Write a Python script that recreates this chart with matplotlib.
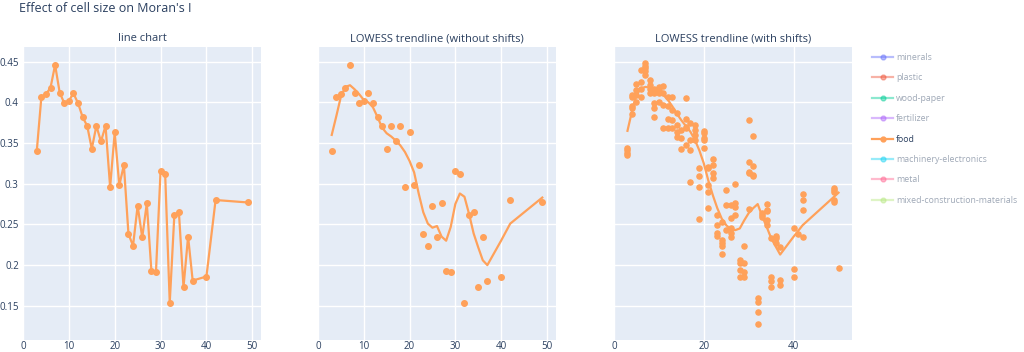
import matplotlib
matplotlib.use("Agg")
import matplotlib.pyplot as plt
from matplotlib.lines import Line2D

plt.rcParams['font.family'] = ['Open Sans', 'DejaVu Sans']

TEXT = '#2a3f5f'
BG = '#E5ECF6'
FOOD = '#FFA15A'

# cell size vs Moran's I (food)
cell_size = [3, 4, 5, 6, 7, 8, 9, 10, 11, 12, 13, 14, 15, 16, 17, 18, 19, 20, 21, 22,
             23, 24, 25, 26, 27, 28, 29, 30, 31, 32, 33, 34, 35, 36, 37, 40, 42, 49]
morans_i = [0.340, 0.406, 0.410, 0.418, 0.446, 0.412, 0.399, 0.402, 0.411, 0.399,
            0.382, 0.371, 0.343, 0.371, 0.352, 0.371, 0.296, 0.363, 0.298, 0.323,
            0.238, 0.224, 0.273, 0.234, 0.276, 0.193, 0.192, 0.316, 0.312, 0.154,
            0.261, 0.265, 0.173, 0.235, 0.181, 0.186, 0.280, 0.277]
lowess_noshift = [0.360, 0.383, 0.407, 0.419, 0.421, 0.416, 0.410, 0.403, 0.400, 0.394,
                  0.382, 0.369, 0.362, 0.358, 0.353, 0.347, 0.339, 0.328, 0.314, 0.288,
                  0.265, 0.251, 0.246, 0.248, 0.235, 0.230, 0.247, 0.275, 0.288, 0.284,
                  0.263, 0.239, 0.222, 0.206, 0.200, 0.230, 0.251, 0.283]

# with shifts: several grid offsets per cell size
shift_x = ([3] * 4 + [4] * 5 + [5] * 4 + [6] * 4 + [7] * 5 + [8] * 4 + [9] * 5 + [10] * 4
           + [11] * 4 + [12] * 4 + [13] * 4 + [14] * 4 + [15] * 3 + [16] * 5 + [17] * 4
           + [18] * 4 + [19] * 4 + [20] * 5 + [21] * 5 + [22] * 4 + [23] * 4 + [24] * 5
           + [25] * 3 + [26] * 5 + [27] * 4 + [28] * 4 + [29] * 4 + [30] * 5 + [31] * 4
           + [32] * 4 + [33] * 3 + [34] * 5 + [35] * 4 + [36] * 3 + [37] * 3 + [40] * 3
           + [41] + [42] * 4 + [49] * 5 + [50])
shift_y = [0.344, 0.341, 0.338, 0.335,
           0.386, 0.393, 0.395, 0.407, 0.409,
           0.422, 0.415, 0.409, 0.401,
           0.440, 0.425, 0.417, 0.406,
           0.448, 0.445, 0.442, 0.438, 0.434,
           0.427, 0.421, 0.416, 0.412,
           0.417, 0.412, 0.399, 0.393, 0.382,
           0.419, 0.415, 0.411, 0.401,
           0.420, 0.411, 0.397, 0.369,
           0.407, 0.395, 0.380, 0.368,
           0.406, 0.391, 0.378, 0.368,
           0.387, 0.372, 0.364, 0.358,
           0.366, 0.356, 0.343,
           0.405, 0.380, 0.370, 0.368, 0.348,
           0.375, 0.354, 0.341, 0.302,
           0.372, 0.366, 0.360, 0.354,
           0.319, 0.309, 0.296, 0.257,
           0.365, 0.362, 0.356, 0.354, 0.344,
           0.321, 0.319, 0.298, 0.290, 0.270,
           0.330, 0.323, 0.313, 0.307,
           0.262, 0.249, 0.239, 0.236,
           0.253, 0.231, 0.227, 0.224, 0.214,
           0.292, 0.274, 0.243,
           0.274, 0.258, 0.245, 0.239, 0.234,
           0.300, 0.276, 0.272, 0.262,
           0.206, 0.203, 0.194, 0.185,
           0.223, 0.202, 0.192, 0.186,
           0.378, 0.327, 0.315, 0.313, 0.269,
           0.359, 0.322, 0.311, 0.310,
           0.159, 0.155, 0.143, 0.128,
           0.264, 0.261, 0.259,
           0.275, 0.268, 0.266, 0.255, 0.249,
           0.233, 0.186, 0.181, 0.173,
           0.236, 0.233, 0.227,
           0.222, 0.182, 0.175,
           0.246, 0.195, 0.186,
           0.238,
           0.287, 0.280, 0.268, 0.234,
           0.295, 0.292, 0.290, 0.280, 0.277,
           0.197]
trend_x = [3, 4, 5, 6, 7, 8, 9, 10, 11, 12, 13, 14, 15, 16, 17, 18, 19, 20, 21, 22,
           23, 24, 25, 26, 27, 28, 29, 30, 31, 32, 33, 34, 35, 36, 37, 40, 41, 42, 49, 50]
lowess_shift = [0.365, 0.389, 0.409, 0.417, 0.419, 0.418, 0.416, 0.413, 0.409, 0.403,
                0.395, 0.386, 0.378, 0.371, 0.364, 0.354, 0.341, 0.325, 0.304, 0.286,
                0.270, 0.257, 0.249, 0.244, 0.243, 0.245, 0.255, 0.264, 0.270, 0.275,
                0.260, 0.247, 0.233, 0.223, 0.213, 0.235, 0.242, 0.249, 0.284, 0.289]

categories = ['minerals', 'plastic', 'wood-paper', 'fertilizer', 'food',
              'machinery-electronics', 'metal', 'mixed-construction-materials']
cat_colors = ['#636EFA', '#EF553B', '#00CC96', '#AB63FA', '#FFA15A',
              '#19D3F3', '#FF6692', '#B6E880']
subtitles = ['line chart', 'LOWESS trendline (without shifts)', 'LOWESS trendline (with shifts)']

fig = plt.figure(figsize=(10.24, 3.52), dpi=100)
W, H = 1024, 352
lefts = [23, 318, 614]
axes = []
for i, l in enumerate(lefts):
    ax = fig.add_axes([l / W, 12 / H, 238 / W, 293 / H])
    ax.set_facecolor(BG)
    for s in ax.spines.values():
        s.set_visible(False)
    ax.grid(True, color='white', linewidth=1)
    ax.set_axisbelow(True)
    ax.set_ylim(0.108, 0.468)
    ax.set_yticks([0.15, 0.2, 0.25, 0.3, 0.35, 0.4, 0.45])
    ax.tick_params(length=0, labelsize=7, colors=TEXT, pad=3)
    ax.tick_params(axis='x', pad=0.5)
    ax.set_title(subtitles[i], fontsize=8, color=TEXT, pad=4)
    if i > 0:
        ax.set_yticklabels([])
    else:
        ax.set_yticklabels(['0.15', '0.2', '0.25', '0.3', '0.35', '0.4', '0.45'])
    axes.append(ax)

ax1, ax2, ax3 = axes
ax1.plot(cell_size, morans_i, color=FOOD, lw=1.6, marker='o', ms=4)
ax1.set_xlim(0.15, 51.9)
ax1.set_xticks([0, 10, 20, 30, 40, 50])

ax2.plot(cell_size, morans_i, 'o', color=FOOD, ms=4)
ax2.plot(cell_size, lowess_noshift, color=FOOD, lw=1.6)
ax2.set_xlim(0.0, 52.0)
ax2.set_xticks([0, 10, 20, 30, 40, 50])

ax3.plot(shift_x, shift_y, 'o', color=FOOD, ms=3.7)
ax3.plot(trend_x, lowess_shift, color=FOOD, lw=1.6)
ax3.set_xlim(0.2, 53.0)
ax3.set_xticks([0, 20, 40])

fig.text(19 / W, 1 - 8 / H, "Effect of cell size on Moran's I", fontsize=9,
         color=TEXT, va='center', ha='left')

handles = []
for c, col in zip(categories, cat_colors):
    a = 1.0 if c == 'food' else 0.45
    handles.append(Line2D([0], [0], color=col, lw=1.6, marker='o', ms=3.5, alpha=a))
leg = fig.legend(handles, categories, loc='upper left',
                 bbox_to_anchor=(866 / W, 1 - 47 / H), frameon=False,
                 fontsize=6.3, handlelength=2.4, labelspacing=1.3, handletextpad=0.35,
                 borderaxespad=0.3)
for t, c in zip(leg.get_texts(), categories):
    t.set_color(TEXT)
    if c != 'food':
        t.set_alpha(0.45)

fig.savefig('out.png', dpi=100)
